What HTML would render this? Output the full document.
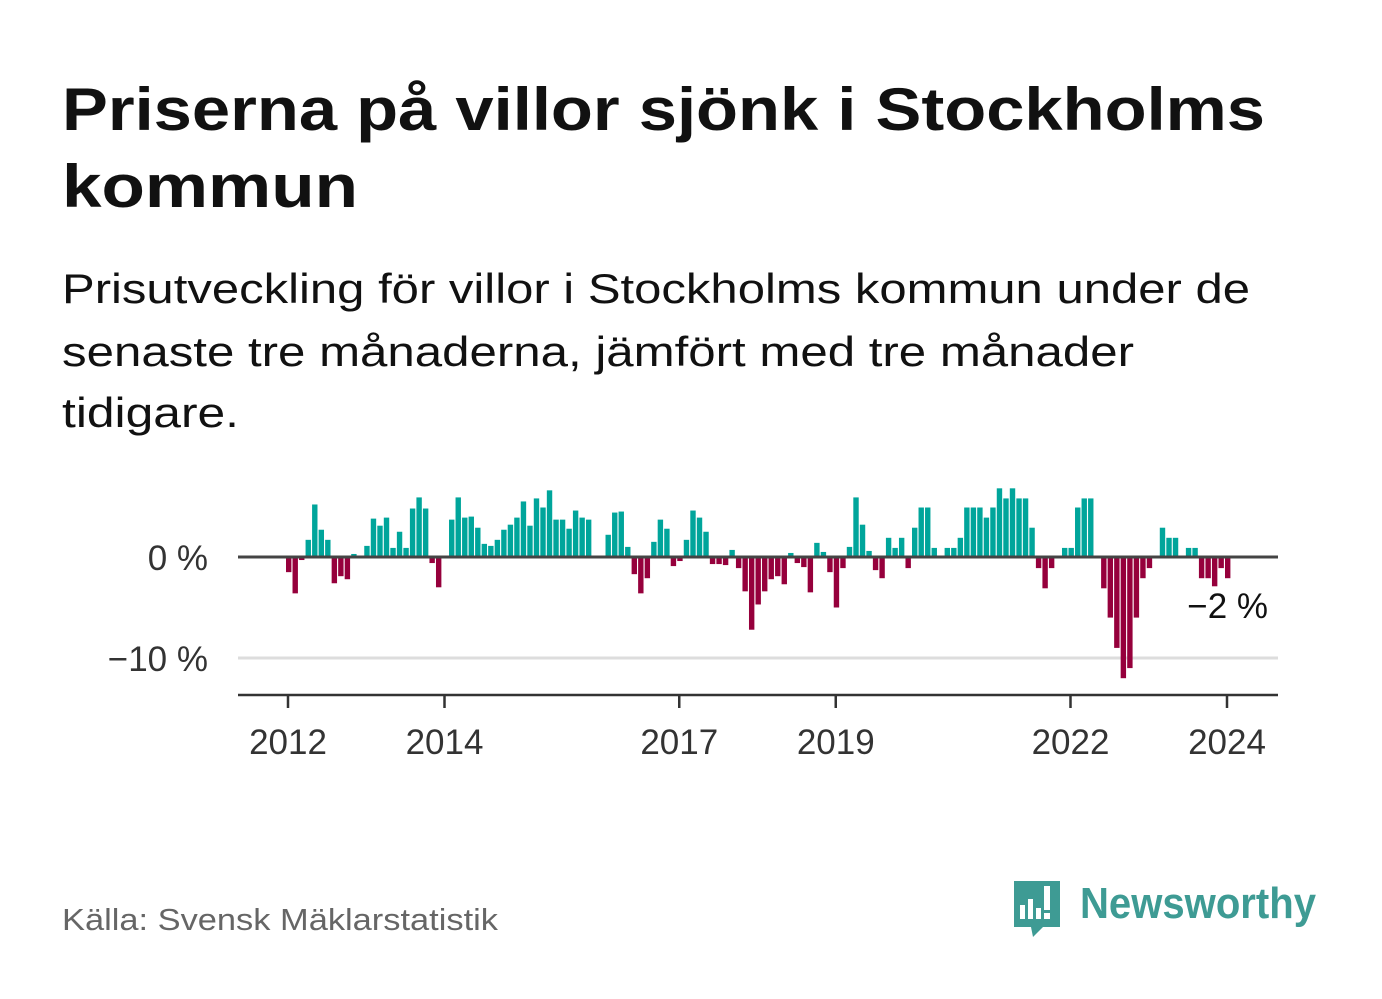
<!DOCTYPE html>
<html><head><meta charset="utf-8">
<style>
html,body{margin:0;padding:0;background:#fff;}
svg{display:block;font-family:"Liberation Sans",sans-serif;}
</style></head>
<body>
<svg id="chart" width="1382" height="999" viewBox="0 0 1382 999" xmlns="http://www.w3.org/2000/svg">
<text x="62" y="130" font-size="60" font-weight="bold" fill="#111" textLength="1203" lengthAdjust="spacingAndGlyphs">Priserna på villor sjönk i Stockholms</text>
<text x="62" y="207" font-size="60" font-weight="bold" fill="#111" textLength="296" lengthAdjust="spacingAndGlyphs">kommun</text>
<text x="62" y="303" font-size="42" fill="#111" textLength="1188" lengthAdjust="spacingAndGlyphs">Prisutveckling för villor i Stockholms kommun under de</text>
<text x="62" y="366" font-size="42" fill="#111" textLength="1072" lengthAdjust="spacingAndGlyphs">senaste tre månaderna, jämfört med tre månader</text>
<text x="62" y="427" font-size="42" fill="#111" textLength="177" lengthAdjust="spacingAndGlyphs">tidigare.</text>
<g id="plot"></g>
<text x="62" y="930" font-size="31" fill="#666" textLength="436" lengthAdjust="spacingAndGlyphs">Källa: Svensk Mäklarstatistik</text>
<g>
<path d="M1014 881 h46 v46 h-17 l-10 10 l-2 -10 h-17 z" fill="#3e9b94"/>
<rect x="1020" y="905" width="5" height="14" fill="#fff"/>
<rect x="1028" y="899" width="5" height="20" fill="#fff"/>
<rect x="1036" y="908" width="5" height="11" fill="#fff"/>
<rect x="1044" y="886" width="6" height="24" fill="#fff"/>
<rect x="1044" y="913" width="6" height="6" fill="#fff"/>
<text x="1080" y="918" font-size="44" font-weight="bold" fill="#3e9b94" textLength="236" lengthAdjust="spacingAndGlyphs">Newsworthy</text>
</g>
</svg>
<script>
const values = [
-1.5,-3.6,-0.3,1.7,5.2,2.7,1.7,-2.6,-1.9,-2.2,0.3,null,
1.1,3.8,3.1,3.9,0.9,2.5,0.9,4.8,5.9,4.8,-0.6,-3.0,
null,3.7,5.9,3.9,4.0,2.9,1.3,1.1,1.7,2.7,3.2,3.9,
5.5,3.1,5.8,4.9,6.6,3.7,3.7,2.8,4.6,3.9,3.7,null,
null,2.2,4.4,4.5,1.0,-1.7,-3.6,-2.1,1.5,3.7,2.8,-0.9,
-0.4,1.7,4.6,3.9,2.5,-0.7,-0.7,-0.8,0.7,-1.1,-3.4,-7.2,
-4.7,-3.4,-2.2,-1.9,-2.7,0.4,-0.6,-1.0,-3.5,1.4,0.5,-1.5,
-5.0,-1.1,1.0,5.9,3.2,0.6,-1.3,-2.1,1.9,0.9,1.9,-1.1,
2.9,4.9,4.9,0.9,null,0.9,0.9,1.9,4.9,4.9,4.9,3.9,
4.9,6.8,5.8,6.8,5.8,5.8,2.9,-1.1,-3.1,-1.1,null,0.9,
0.9,4.9,5.8,5.8,null,-3.1,-6.0,-9.0,-12.0,-11.0,-6.0,-2.1,
-1.1,null,2.9,1.9,1.9,null,0.9,0.9,-2.1,-2.1,-2.9,-1.1,
-2.1
];
const startYear = 2012;
const yTicks = [0, -10];
const yTickLabels = ["0 %", "−10 %"];
const xTicks = [2012, 2014, 2017, 2019, 2022, 2024];
const lastLabel = "−2 %";

const NS = "http://www.w3.org/2000/svg";
const plot = document.getElementById("plot");
const X0 = 288, PX_PER_YEAR = 78.25, Y0 = 557, PX_PER_PCT = 10.1;
const xScale = yr => X0 + (yr - startYear) * PX_PER_YEAR;
const yScale = v => Y0 - v * PX_PER_PCT;
function mk(tag, attrs) { const e = document.createElementNS(NS, tag); for (const k in attrs) e.setAttribute(k, attrs[k]); plot.appendChild(e); return e; }

// gridlines
yTicks.forEach((t, i) => {
  if (t !== 0) {
    const g = mk("line", {x1: 238, x2: 1278, y1: yScale(t), y2: yScale(t), stroke: "#ddd", "stroke-width": 3});
    
    
  }
  const l = mk("text", {x: 208, y: yScale(t) + 13, "font-size": 35, fill: "#333", "text-anchor": "end"});
  l.textContent = yTickLabels[i];
  
  
});

// bars
values.forEach((v, i) => {
  if (v === null || v === 0) return;
  const x = xScale(startYear + i / 12) - 2;
  const y = v > 0 ? yScale(v) : Y0;
  const r = mk("rect", {x: x, y: y, width: 5.4, height: Math.abs(v) * PX_PER_PCT, fill: v > 0 ? "#00a59b" : "#96003c"});
  
  
});

// zero line
const z = mk("line", {x1: 238, x2: 1278, y1: Y0, y2: Y0, stroke: "#444", "stroke-width": 3});



// x axis
const ax = mk("line", {x1: 238, x2: 1278, y1: 695, y2: 695, stroke: "#333", "stroke-width": 2.5});


xTicks.forEach(yr => {
  const x = xScale(yr);
  const t = mk("line", {x1: x, x2: x, y1: 695, y2: 708, stroke: "#333", "stroke-width": 2.5});
  
  
  const l = mk("text", {x: x, y: 754, "font-size": 35, fill: "#333", "text-anchor": "middle"});
  l.textContent = String(yr);
  
  
});

// last value label
const ll = mk("text", {x: 1268, y: 618, "font-size": 35, fill: "#111", "text-anchor": "end"});
ll.textContent = lastLabel;


</script>
</body></html>
